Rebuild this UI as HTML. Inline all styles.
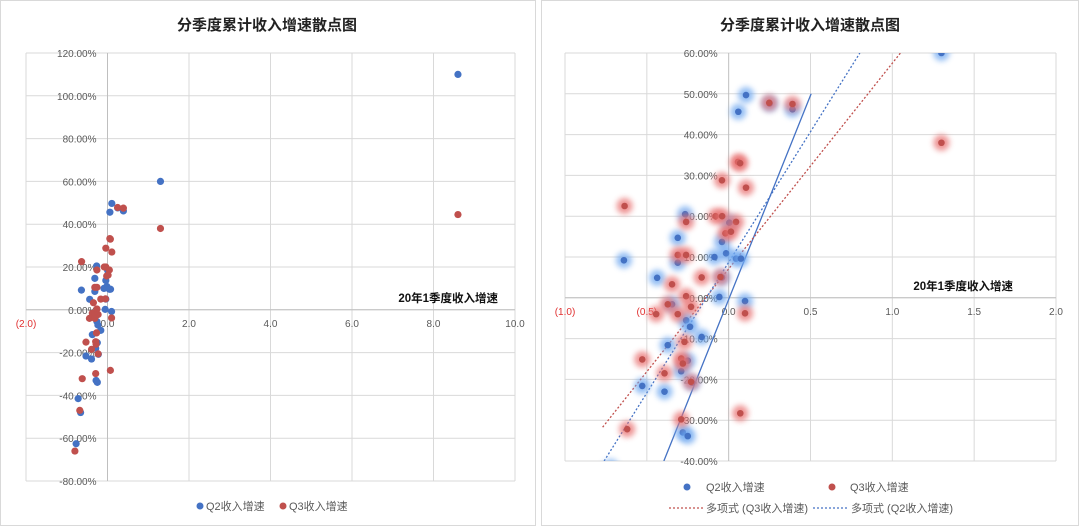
<!DOCTYPE html>
<html><head><meta charset="utf-8">
<style>
html,body{margin:0;padding:0;background:#fff;width:1080px;height:527px;overflow:hidden;}
svg{display:block;font-family:"Liberation Sans","Noto Sans CJK SC",sans-serif;}
</style></head>
<body>
<svg id="c" width="1080" height="527" viewBox="0 0 1080 527">
<defs>
<filter id="blur" x="-1" y="-1" width="3" height="3"><feGaussianBlur stdDeviation="3"/></filter>
<clipPath id="clipR"><rect x="565" y="53" width="491" height="408"/></clipPath>
</defs>
<rect x="0.5" y="0.5" width="535" height="525" fill="#fff" stroke="#d9d9d9"/>
<rect x="541.5" y="0.5" width="537" height="525" fill="#fff" stroke="#d9d9d9"/>
<g id="L"></g>
<g id="R"></g>
</svg>
<script>
// Q2 series (x: 20Q1 growth, y: Q2 growth %)
const q2X = [0.106,0.059,0.39,0.25,-0.266,-0.311,-0.64,-0.311,-0.041,0.004,-0.016,-0.087,0.045,0.075,-0.437,-0.041,-0.057,0.10,-0.346,-0.26,-0.236,-0.165,-0.372,-0.25,-0.29,-0.224,-0.528,-0.392,-0.28,-0.25,1.3,8.6,-0.72,-0.66,-0.77];
const q2Y = [49.7,45.6,46.2,47.6,20.5,14.7,9.2,8.6,13.7,18.4,10.9,10.0,9.6,9.6,4.9,5.0,0.2,-0.8,-1.6,-5.5,-7.1,-9.6,-11.6,-15.4,-18.0,-20.8,-21.6,-23.0,-33.0,-33.9,60,110,-41.5,-48,-62.6];
// Q3 series
const q3X = [0.248,0.39,0.057,0.07,-0.041,0.106,-0.636,-0.08,-0.04,0.045,-0.26,-0.02,0.014,-0.311,-0.26,-0.165,-0.05,-0.346,-0.372,-0.26,-0.23,-0.443,-0.311,0.10,-0.27,-0.528,-0.29,-0.28,-0.392,-0.23,-0.29,0.071,-0.62,1.3,8.6,-0.68,-0.8];
const q3Y = [47.8,47.5,33.3,33.0,28.8,27.0,22.5,20.0,20.0,18.6,18.6,15.8,16.2,10.5,10.5,5.0,5.1,3.3,-1.6,0.4,-2.2,-4.0,-4.0,-3.8,-10.8,-15.1,-14.9,-16.1,-18.5,-20.6,-29.8,-28.3,-32.2,38,44.5,-47,-66];
// trend lines [slope, intercept]
const trendQ3 = [50.4, 7.1];
const trendQ2 = [64, 8.7];
const trendSolid = [100, -0.4];
// ticks
const lxTicks = [-2,0,2,4,6,8,10];
const lyTicks = [-80,-60,-40,-20,0,20,40,60,80,100,120];
const rxTicks = [-1,-0.5,0,0.5,1,1.5,2];
const ryTicks = [-40,-30,-20,-10,0,10,20,30,40,50,60];

const NS="http://www.w3.org/2000/svg";
function el(p,t,a,txt){const e=document.createElementNS(NS,t);for(const k in a)e.setAttribute(k,a[k]);if(txt!==undefined)e.textContent=txt;p.appendChild(e);return e;}
function fmtX(v){const s=Math.abs(v).toFixed(1);return v<0?"("+s+")":s;}
const BLUE="#4472c4",RED="#c0504d";

function chart(g,o){
  const sx=v=>o.x0+(v-o.xmin)/(o.xmax-o.xmin)*(o.x1-o.x0);
  const sy=v=>o.y1-(v-o.ymin)/(o.ymax-o.ymin)*(o.y1-o.y0);
  let t=el(g,"text",{x:o.cx,y:30,"text-anchor":"middle","font-size":15,"font-weight":"bold",fill:"#222"},"分季度累计收入增速散点图");
  
  
  o.yt.forEach(v=>{
    const l=el(g,"line",{x1:o.x0,x2:o.x1,y1:sy(v),y2:sy(v),stroke:"#d9d9d9"});
    
    
  });
  o.xt.forEach(v=>{
    const l=el(g,"line",{x1:sx(v),x2:sx(v),y1:o.y0,y2:o.y1,stroke:v===0?"#bfbfbf":"#d9d9d9"});
    
    
  });
  const ax=el(g,"line",{x1:o.x0,x2:o.x1,y1:sy(0),y2:sy(0),stroke:"#bfbfbf"});
  
  
  o.xt.forEach(v=>{
    const tl=el(g,"text",{x:sx(v),y:sy(0)+17,"text-anchor":"middle","font-size":10,fill:v<0?"#e03030":"#595959"},fmtX(v));
    
    
  });
  o.yt.forEach(v=>{
    const tl=el(g,"text",{x:sx(0)-11,y:sy(v)+4,"text-anchor":"end","font-size":10,fill:"#595959"},v.toFixed(2)+"%");
    
    
  });
  const at=el(g,"text",{x:o.atx,y:sy(0)-8,"text-anchor":"end","font-size":11.5,"font-weight":"bold",fill:"#111"},"20年1季度收入增速");
  
  
  const pg=el(g,"g",o.clip?{"clip-path":"url(#clipR)"}:{});
  if(o.trends){
    const tr=[[trendSolid,BLUE,"none"],[trendQ3,RED,"2,2"],[trendQ2,BLUE,"2,2"]];
    tr.forEach(([c,col,d],i)=>{
      const xa=(o.ymin-c[1])/c[0], xb=(o.ymax-c[1])/c[0];
      const xs=i===0?Math.min((50-c[1])/c[0],xb):xb;
      const xa2=i===1?Math.max(xa,-0.77):xa;
      const l=el(pg,"line",{x1:sx(xa2),y1:sy(c[0]*xa2+c[1]),x2:sx(xs),y2:sy(c[0]*xs+c[1]),stroke:col,"stroke-width":1.3,"stroke-dasharray":d});
      
      
    });
  }
  [[q2X,q2Y,BLUE,"#6fa8f0"],[q3X,q3Y,RED,"#e87070"]].forEach(([X,Y,col,glow],si)=>{
    X.forEach((x,i)=>{
      if(o.glow){
        const h=el(pg,"circle",{cx:sx(x),cy:sy(Y[i]),r:8,fill:glow,opacity:0.75,filter:"url(#blur)"});
        
        
      }
      const c=el(pg,"circle",{cx:sx(x),cy:sy(Y[i]),r:o.glow?3.3:3.6,fill:col});
      
      
    });
  });
}

chart(document.getElementById("L"),{x0:26,x1:515,y0:53,y1:481,xmin:-2,xmax:10,ymin:-80,ymax:120,xt:lxTicks,yt:lyTicks,cx:267,atx:498,glow:false,trends:false,clip:false});
chart(document.getElementById("R"),{x0:565,x1:1056,y0:53,y1:461,xmin:-1,xmax:2,ymin:-40,ymax:60,xt:rxTicks,yt:ryTicks,cx:810,atx:1013,glow:true,trends:true,clip:true});

// legends
const L=document.getElementById("L"),R=document.getElementById("R");
let e;
e=el(L,"circle",{cx:200,cy:506,r:3.5,fill:BLUE});
e=el(L,"text",{x:206,y:510,"font-size":11,fill:"#595959"},"Q2收入增速");
e=el(L,"circle",{cx:283,cy:506,r:3.5,fill:RED});
e=el(L,"text",{x:289,y:510,"font-size":11,fill:"#595959"},"Q3收入增速");

e=el(R,"circle",{cx:687,cy:487,r:3.5,fill:BLUE});
e=el(R,"text",{x:706,y:491,"font-size":11,fill:"#595959"},"Q2收入增速");
e=el(R,"circle",{cx:832,cy:487,r:3.5,fill:RED});
e=el(R,"text",{x:850,y:491,"font-size":11,fill:"#595959"},"Q3收入增速");
e=el(R,"line",{x1:669,x2:703,y1:508,y2:508,stroke:RED,"stroke-width":1.3,"stroke-dasharray":"2,2"});
e=el(R,"text",{x:706,y:512,"font-size":11,fill:"#595959"},"多项式 (Q3收入增速)");
e=el(R,"line",{x1:813,x2:847,y1:508,y2:508,stroke:BLUE,"stroke-width":1.3,"stroke-dasharray":"2,2"});
e=el(R,"text",{x:851,y:512,"font-size":11,fill:"#595959"},"多项式 (Q2收入增速)");
</script>
</body></html>
